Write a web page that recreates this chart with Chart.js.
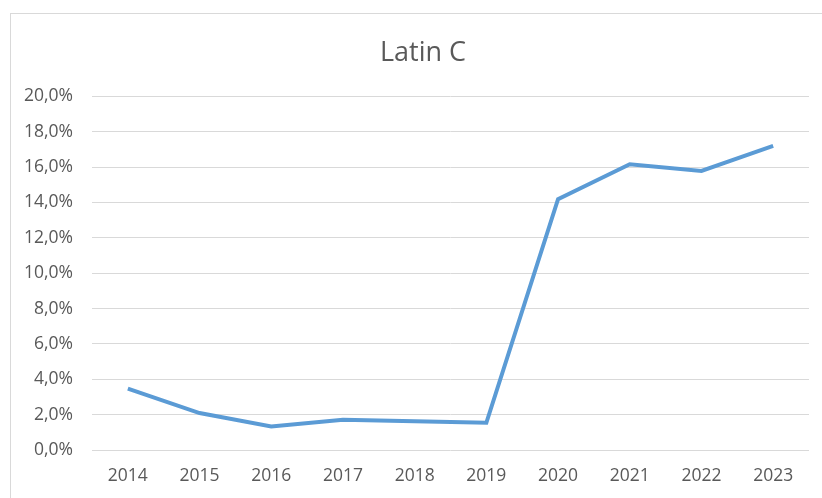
<!DOCTYPE html>
<html>
<head>
<meta charset="utf-8">
<script src="https://cdn.jsdelivr.net/npm/chart.js@4/dist/chart.umd.min.js"></script>
<style>
    html, body { margin: 0; padding: 0; background: #fff; overflow: hidden; }
    #box { position: absolute; left: 10px; top: 13px; width: 824px; height: 490px; border: 1px solid #d9d9d9; background: #fff; }
</style>
</head>
<body>
<div id="box"><canvas id="myChart" width="824" height="484"></canvas></div>
<script>
var years = ["2014", "2015", "2016", "2017", "2018", "2019", "2020", "2021", "2022", "2023"];
var shares = [3.47, 2.09, 1.33, 1.71, 1.63, 1.54, 14.19, 16.16, 15.78, 17.2];
var chartTitle = "Latin C";

var textColor = "#595959";
var gridColor = "#d9d9d9";

function LatinChart() {
    new Chart("myChart", {
        type: "line",
        data: {
            labels: years,
            datasets: [{
                data: shares,
                borderColor: "#5b9bd5",
                borderWidth: 4,
                pointRadius: 0,
                tension: 0,
                fill: false
            }]
        },
        options: {
            responsive: false,
            animation: false,
            layout: { padding: 0 },
            plugins: {
                legend: { display: false },
                tooltip: { enabled: false },
                title: {
                    display: true,
                    text: chartTitle,
                    color: textColor,
                    font: { family: "Open Sans", size: 27, weight: "normal" },
                    padding: { top: 23, bottom: 27 }
                }
            },
            scales: {
                x: {
                    offset: true,
                    grid: { display: false, drawTicks: false },
                    border: { display: false },
                    ticks: {
                        color: textColor,
                        font: { family: "Open Sans", size: 17.5 },
                        padding: 16,
                        maxRotation: 0
                    },
                    afterFit: function (scale) { scale.height = 48; }
                },
                y: {
                    min: 0,
                    max: 20,
                    grid: { color: gridColor, lineWidth: 1, drawTicks: false },
                    border: { display: false },
                    ticks: {
                        stepSize: 2,
                        color: textColor,
                        font: { family: "Open Sans", size: 17.5 },
                        padding: 19,
                        callback: function (v) { return v.toFixed(1).replace(".", ",") + "%"; }
                    },
                    afterFit: function (scale) { scale.width = 81; }
                },
                // empty right-hand margin, so the title stays centred on the whole box
                yRight: {
                    position: "right",
                    min: 0,
                    max: 20,
                    grid: { display: false, drawTicks: false },
                    border: { display: false },
                    ticks: { display: false },
                    afterFit: function (scale) { scale.width = 26; }
                }
            }
        }
    });
}

LatinChart();
</script>
</body>
</html>
